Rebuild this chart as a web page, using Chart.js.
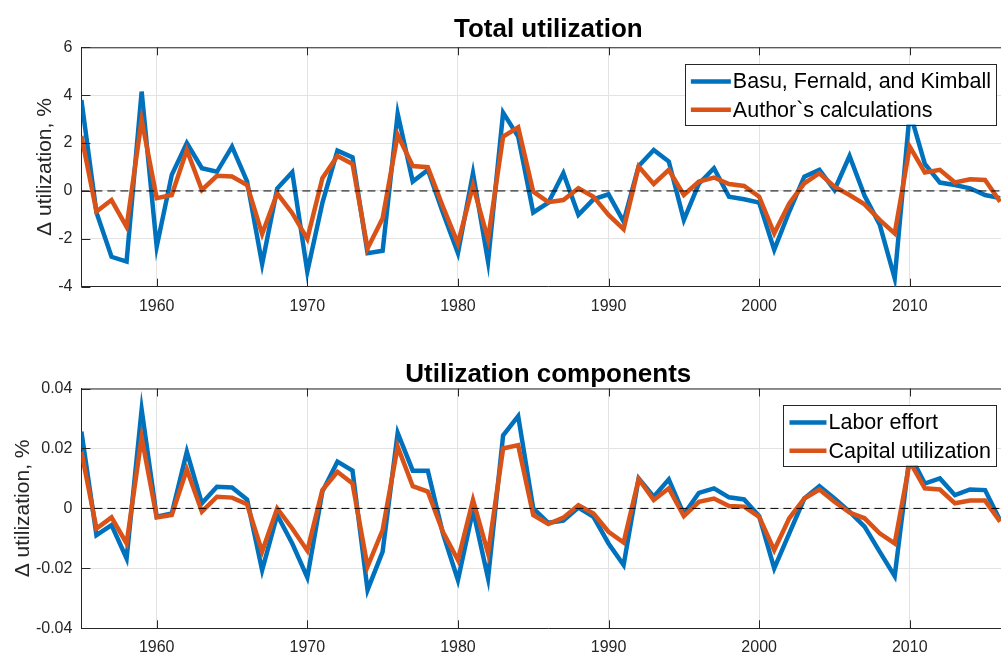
<!DOCTYPE html>
<html>
<head>
<meta charset="utf-8">
<script src="https://cdn.jsdelivr.net/npm/chart.js@4"></script>
<style>
    body { margin: 0; width: 1001px; height: 656px; overflow: hidden; background: #fff; }
    .panel { position: absolute; left: 0; }
</style>
</head>
<body>
<div class="panel" style="top:0"><canvas id="total" width="1020" height="330"></canvas></div>
<div class="panel" style="top:330px"><canvas id="components" width="1020" height="326"></canvas></div>
<script>
const years = [1955, 1956, 1957, 1958, 1959, 1960, 1961, 1962, 1963, 1964,
    1965, 1966, 1967, 1968, 1969, 1970, 1971, 1972, 1973, 1974,
    1975, 1976, 1977, 1978, 1979, 1980, 1981, 1982, 1983, 1984,
    1985, 1986, 1987, 1988, 1989, 1990, 1991, 1992, 1993, 1994,
    1995, 1996, 1997, 1998, 1999, 2000, 2001, 2002, 2003, 2004,
    2005, 2006, 2007, 2008, 2009, 2010, 2011, 2012, 2013, 2014,
    2015, 2016]

// total utilization, % change
const bfk = [3.8, -0.9, -2.75, -2.95, 4.15, -2.33, 0.67, 2.0, 0.95, 0.8,
    1.85, 0.4, -3.05, 0.1, 0.78, -3.37, -0.5, 1.68, 1.4, -2.6,
    -2.5, 3.22, 0.39, 0.88, -0.9, -2.6, 0.74, -2.95, 3.27, 2.27,
    -0.9, -0.49, 0.74, -1.0, -0.35, -0.14, -1.28, 1.04, 1.71, 1.23,
    -1.21, 0.3, 0.95, -0.24, -0.35, -0.49, -2.46, -0.86, 0.6, 0.88,
    0.04, 1.46, -0.2, -1.4, -3.65, 3.3, 1.13, 0.35, 0.25, 0.11,
    -0.17, -0.3]
const author = [2.3, -0.86, -0.38, -1.5, 2.97, -0.3, -0.17, 1.71, 0.04, 0.63,
    0.6, 0.25, -1.8, -0.1, -0.93, -2.0, 0.53, 1.46, 1.13, -2.4,
    -1.14, 2.34, 1.04, 0.99, -0.65, -2.19, 0.22, -2.02, 2.27, 2.66,
    -0.03, -0.47, -0.38, 0.11, -0.24, -1.0, -1.6, 1.02, 0.29, 0.88,
    -0.17, 0.39, 0.56, 0.29, 0.21, -0.24, -1.77, -0.52, 0.32, 0.74,
    0.18, -0.17, -0.56, -1.21, -1.77, 1.85, 0.77, 0.88, 0.35, 0.49,
    0.46, -0.45]

// components
const laborEffort = [0.0256, -0.0089, -0.0056, -0.0167, 0.033, -0.0028, -0.0017, 0.0189, 0.0017, 0.0072,
    0.007, 0.003, -0.0206, -0.0022, -0.0117, -0.023, 0.0056, 0.0156, 0.0126, -0.0272,
    -0.0144, 0.0252, 0.0126, 0.0126, -0.0083, -0.0239, -0.0006, -0.0233, 0.0244, 0.0308,
    0.0, -0.0048, -0.0041, 0.0003, -0.0028, -0.0117, -0.0189, 0.01, 0.0039, 0.0097,
    -0.002, 0.0052, 0.0067, 0.0037, 0.003, -0.0026, -0.02, -0.0083, 0.0033, 0.0074,
    0.0033, -0.0011, -0.0061, -0.0144, -0.0226, 0.018, 0.0083, 0.01, 0.0044, 0.0063,
    0.0061, -0.004]
const capitalUtil = [0.0189, -0.0067, -0.003, -0.0117, 0.0237, -0.003, -0.0022, 0.013, -0.0011, 0.0039,
    0.0036, 0.0014, -0.0144, 0.0, -0.0067, -0.0141, 0.0061, 0.0122, 0.0083, -0.0194,
    -0.0072, 0.0206, 0.0074, 0.0056, -0.0078, -0.0172, 0.0028, -0.015, 0.02, 0.0211,
    -0.0022, -0.0052, -0.0031, 0.0011, -0.0017, -0.0078, -0.0114, 0.0098, 0.0028, 0.0067,
    -0.0026, 0.0022, 0.0033, 0.0008, 0.0006, -0.0028, -0.0139, -0.0033, 0.0033, 0.0063,
    0.0022, -0.0014, -0.0033, -0.0083, -0.0117, 0.0156, 0.0067, 0.0063, 0.0017, 0.0026,
    0.0026, -0.0044]

const xTicks = [1960, 1970, 1980, 1990, 2000, 2010]
const xLimits = [1955, 2017]
const totalTicks = [-4, -2, 0, 2, 4, 6]
const compTicks = [-0.04, -0.02, 0, 0.02, 0.04]

const blue = '#0072BD'
const orange = '#D95319'
const axisColor = '#262626'
const gridColor = '#e3e3e3'
const fontFamily = '"Liberation Sans", Arial, Helvetica, sans-serif'

const pairs = (vals) => years.map((yr, i) => ({ x: yr, y: vals[i] }))

// titles, box edge, inward ticks and legend, drawn the way the old figures look
const axesDecor = {
    id: 'axesDecor',
    afterDatasetsDraw(chart, args, opts) {
        const { ctx, chartArea: a, scales } = chart
        ctx.save()
        ctx.strokeStyle = axisColor
        ctx.lineWidth = 1
        ctx.beginPath()
        ctx.moveTo(a.left, a.top + 0.5)
        ctx.lineTo(a.right, a.top + 0.5)
        scales.x.ticks.forEach(t => {
            const px = Math.round(scales.x.getPixelForValue(t.value)) + 0.5
            ctx.moveTo(px, a.bottom)
            ctx.lineTo(px, a.bottom - 8)
            ctx.moveTo(px, a.top)
            ctx.lineTo(px, a.top + 8)
        })
        scales.y.ticks.forEach(t => {
            const py = Math.round(scales.y.getPixelForValue(t.value)) + 0.5
            ctx.moveTo(a.left, py)
            ctx.lineTo(a.left + 9, py)
        })
        ctx.stroke()

        // title
        ctx.fillStyle = '#000'
        ctx.font = 'bold 26px ' + fontFamily
        ctx.textAlign = 'center'
        ctx.textBaseline = 'alphabetic'
        ctx.fillText(opts.title, (a.left + a.right) / 2, a.top - opts.titleGap)

        // legend box
        const items = chart.data.datasets.filter(d => d.label)
        ctx.font = '21.5px ' + fontFamily
        const textW = Math.max(...items.map(d => ctx.measureText(d.label).width))
        const w = 6 + opts.sample + 2 + textW + 5
        const h = items.length * 28.3 + 4
        const left = opts.legendRight - w
        ctx.fillStyle = '#fff'
        ctx.fillRect(left, opts.legendTop, w, h)
        ctx.strokeStyle = axisColor
        ctx.strokeRect(Math.round(left) + 0.5, Math.round(opts.legendTop) + 0.5, Math.round(w), Math.round(h))
        ctx.textAlign = 'left'
        ctx.textBaseline = 'middle'
        items.forEach((d, i) => {
            const cy = opts.legendTop + 17.5 + i * 28.3
            ctx.strokeStyle = d.borderColor
            ctx.lineWidth = 4.5
            ctx.beginPath()
            ctx.moveTo(left + 6, cy)
            ctx.lineTo(left + 6 + opts.sample, cy)
            ctx.stroke()
            ctx.fillStyle = '#000'
            ctx.fillText(d.label, left + 6 + opts.sample + 2, cy + 1)
        })
        ctx.restore()
    }
}

function makeChart(el, seriesA, seriesB, labels, yTicks, layout, decor) {
    return new Chart(document.getElementById(el), {
        type: 'line',
        data: {
            datasets: [{
                label: labels[0],
                data: pairs(seriesA),
                borderColor: blue,
                borderWidth: 4.5,
                pointRadius: 0,
                order: 3
            }, {
                label: labels[1],
                data: pairs(seriesB),
                borderColor: orange,
                borderWidth: 4.5,
                pointRadius: 0,
                order: 2
            }, {
                data: xLimits.map(v => ({ x: v, y: 0 })),
                borderColor: '#000',
                borderWidth: 1,
                borderDash: [8, 5],
                pointRadius: 0,
                order: 1
            }]
        },
        options: {
            responsive: false,
            animation: false,
            events: [],
            layout: { padding: { top: layout.top, right: 4.8, bottom: 0, left: 0 } },
            scales: {
                x: {
                    type: 'linear',
                    min: xLimits[0],
                    max: xLimits[1],
                    afterBuildTicks: s => { s.ticks = xTicks.map(v => ({ value: v })) },
                    afterFit: s => { s.height = layout.xHeight },
                    grid: { color: gridColor, drawTicks: false },
                    border: { color: axisColor },
                    ticks: {
                        padding: 10,
                        color: axisColor,
                        font: { family: fontFamily, size: 16 },
                        callback: v => String(v)
                    }
                },
                y: {
                    min: yTicks[0],
                    max: yTicks[yTicks.length - 1],
                    afterBuildTicks: s => { s.ticks = yTicks.map(v => ({ value: v })) },
                    afterFit: s => { s.width = 81.4 },
                    grid: { color: gridColor, drawTicks: false },
                    border: { color: axisColor },
                    ticks: {
                        padding: 9,
                        color: axisColor,
                        font: { family: fontFamily, size: 16 },
                        callback: v => String(v)
                    },
                    title: {
                        display: true,
                        text: '\u0394 utilization, %',
                        color: axisColor,
                        font: { family: fontFamily, size: 21 },
                        padding: { top: layout.titlePad, bottom: 0 }
                    }
                }
            },
            plugins: {
                legend: { display: false },
                title: { display: false },
                tooltip: { enabled: false },
                axesDecor: decor
            }
        },
        plugins: [axesDecor]
    })
}

makeChart('total', bfk, author,
    ['Basu, Fernald, and Kimball', 'Author`s calculations'],
    totalTicks,
    { top: 47.3, xHeight: 43.3, titlePad: 32.5 },
    { title: 'Total utilization', titleGap: 10, sample: 40, legendRight: 996, legendTop: 64 })

makeChart('components', laborEffort, capitalUtil,
    ['Labor effort', 'Capital utilization'],
    compTicks,
    { top: 58.5, xHeight: 27.7, titlePad: 11 },
    { title: 'Utilization components', titleGap: 7, sample: 37, legendRight: 996, legendTop: 75 })
</script>
</body>
</html>
